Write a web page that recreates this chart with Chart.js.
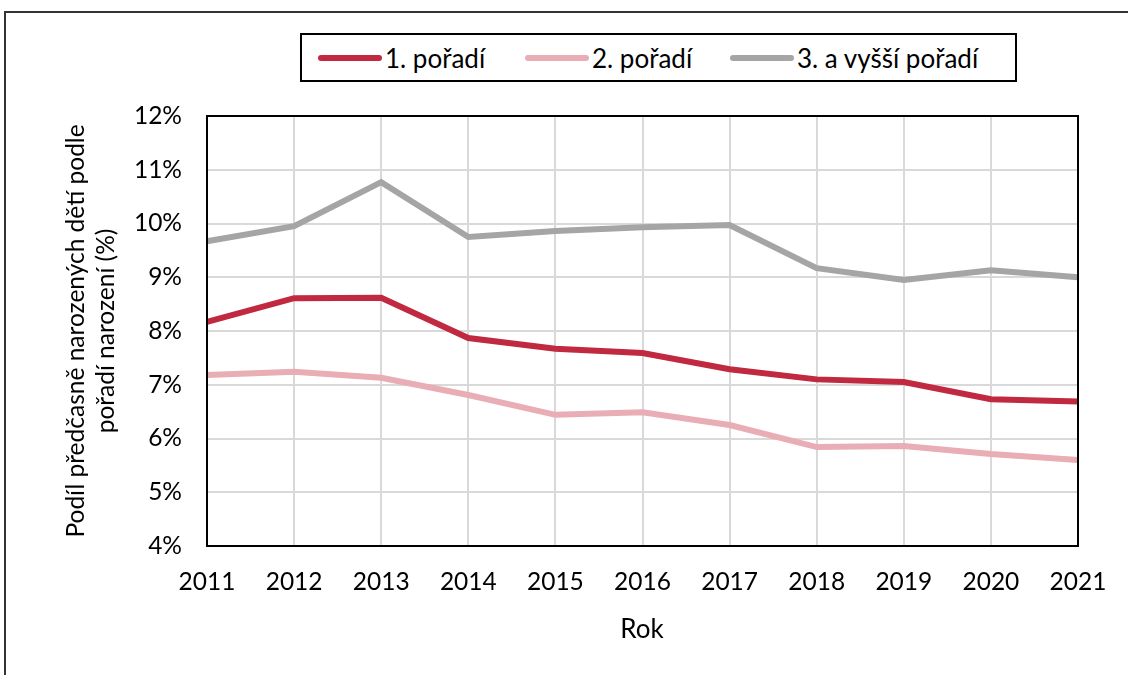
<!DOCTYPE html>
<html lang="cs">
<head>
<meta charset="utf-8">
<script src="https://cdn.jsdelivr.net/npm/chart.js@4"></script>
<style>
  body { margin: 0; background: #fff; font-family: Lato, "Open Sans", sans-serif; color: #000; }
  #wrap { position: relative; width: 1128px; height: 675px; overflow: hidden; }
  #frame { position: absolute; left: 4px; top: 11px; width: 1140px; height: 700px;
           border-left: 2px solid #333; border-top: 2px solid #333; }
  canvas { position: absolute; left: 0; top: 0; }
  #legend { position: absolute; left: 300px; top: 33px; width: 713px; height: 45px;
            border: 2px solid #000; background: #fff; }
  .item { position: absolute; top: 0; height: 45px; display: flex; align-items: center; font-size: 26px; }
  .sw { width: 64px; height: 6px; margin-right: 3px; border-radius: 3px; }
  #ytitle { position: absolute; left: 90px; top: 331px; width: 480px; transform: translate(-50%, -50%) rotate(-90deg);
            text-align: center; font-size: 24.5px; line-height: 30px; white-space: nowrap; }
  #xtitle { position: absolute; left: 642px; top: 628px; transform: translate(-50%, -50%); font-size: 26px; }
</style>
</head>
<body>
<div id="wrap">
  <div id="frame"></div>
  <canvas id="chart" width="1128" height="675"></canvas>
  <div id="legend"></div>
  <div id="ytitle">Podíl předčasně narozených dětí podle<br>pořadí narození (%)</div>
  <div id="xtitle">Rok</div>
</div>
<script>
// roky
const years = ['2011', '2012', '2013', '2014', '2015', '2016', '2017', '2018', '2019', '2020', '2021'];

// podíl předčasně narozených dětí (%) podle pořadí
const first = [8.17, 8.61, 8.62, 7.87, 7.67, 7.59, 7.29, 7.10, 7.05, 6.73, 6.69];
const second = [7.18, 7.24, 7.13, 6.81, 6.44, 6.49, 6.25, 5.84, 5.86, 5.71, 5.60];
const thirdPlus = [9.67, 9.95, 10.77, 9.75, 9.86, 9.93, 9.97, 9.17, 8.95, 9.13, 9.00];

const seriesNames = ['1. pořadí', '2. pořadí', '3. a vyšší pořadí'];
const seriesColors = ['#C0293F', '#E8ADB5', '#A5A5A5'];

// rámeček kolem plochy grafu
const areaBorder = {
    id: 'areaBorder',
    afterDraw(chart) {
        const a = chart.chartArea;
        const ctx = chart.ctx;
        ctx.save();
        ctx.strokeStyle = '#000';
        ctx.lineWidth = 2;
        ctx.strokeRect(a.left, a.top, a.right - a.left, a.bottom - a.top);
        ctx.restore();
    }
};

const tickFont = { family: 'Lato, "Open Sans", sans-serif', size: 24.5 };

new Chart(document.getElementById('chart'), {
    type: 'line',
    data: {
        labels: years,
        datasets: [first, second, thirdPlus].map((d, i) => ({
            label: seriesNames[i],
            data: d,
            borderColor: seriesColors[i],
            backgroundColor: seriesColors[i],
            borderWidth: 6,
            pointRadius: 0,
            tension: 0
        }))
    },
    options: {
        responsive: false,
        animation: false,
        layout: { padding: { left: 0, top: 116, right: 50, bottom: 0 } },
        plugins: { legend: { display: false }, tooltip: { enabled: false } },
        scales: {
            x: {
                offset: false,
                grid: { color: '#D9D9D9', lineWidth: 2, drawTicks: false },
                border: { display: false },
                ticks: { color: '#000', font: tickFont, padding: 21, maxRotation: 0 },
                afterFit(scale) { scale.height = 129; }
            },
            y: {
                min: 4,
                max: 12,
                grid: { color: '#D9D9D9', lineWidth: 2, drawTicks: false },
                border: { display: false },
                ticks: { color: '#000', font: tickFont, padding: 25, stepSize: 1,
                         callback: v => v + '%' },
                afterFit(scale) { scale.width = 207; }
            }
        }
    },
    plugins: [areaBorder]
});

// legenda
const legend = document.getElementById('legend');
const legendX = [16, 223, 428];
seriesNames.forEach((name, i) => {
    const item = document.createElement('div');
    item.className = 'item';
    item.style.left = legendX[i] + 'px';
    item.innerHTML = '<div class="sw" style="background:' + seriesColors[i] + '"></div><span>' + name + '</span>';
    legend.appendChild(item);
});
</script>
</body>
</html>
